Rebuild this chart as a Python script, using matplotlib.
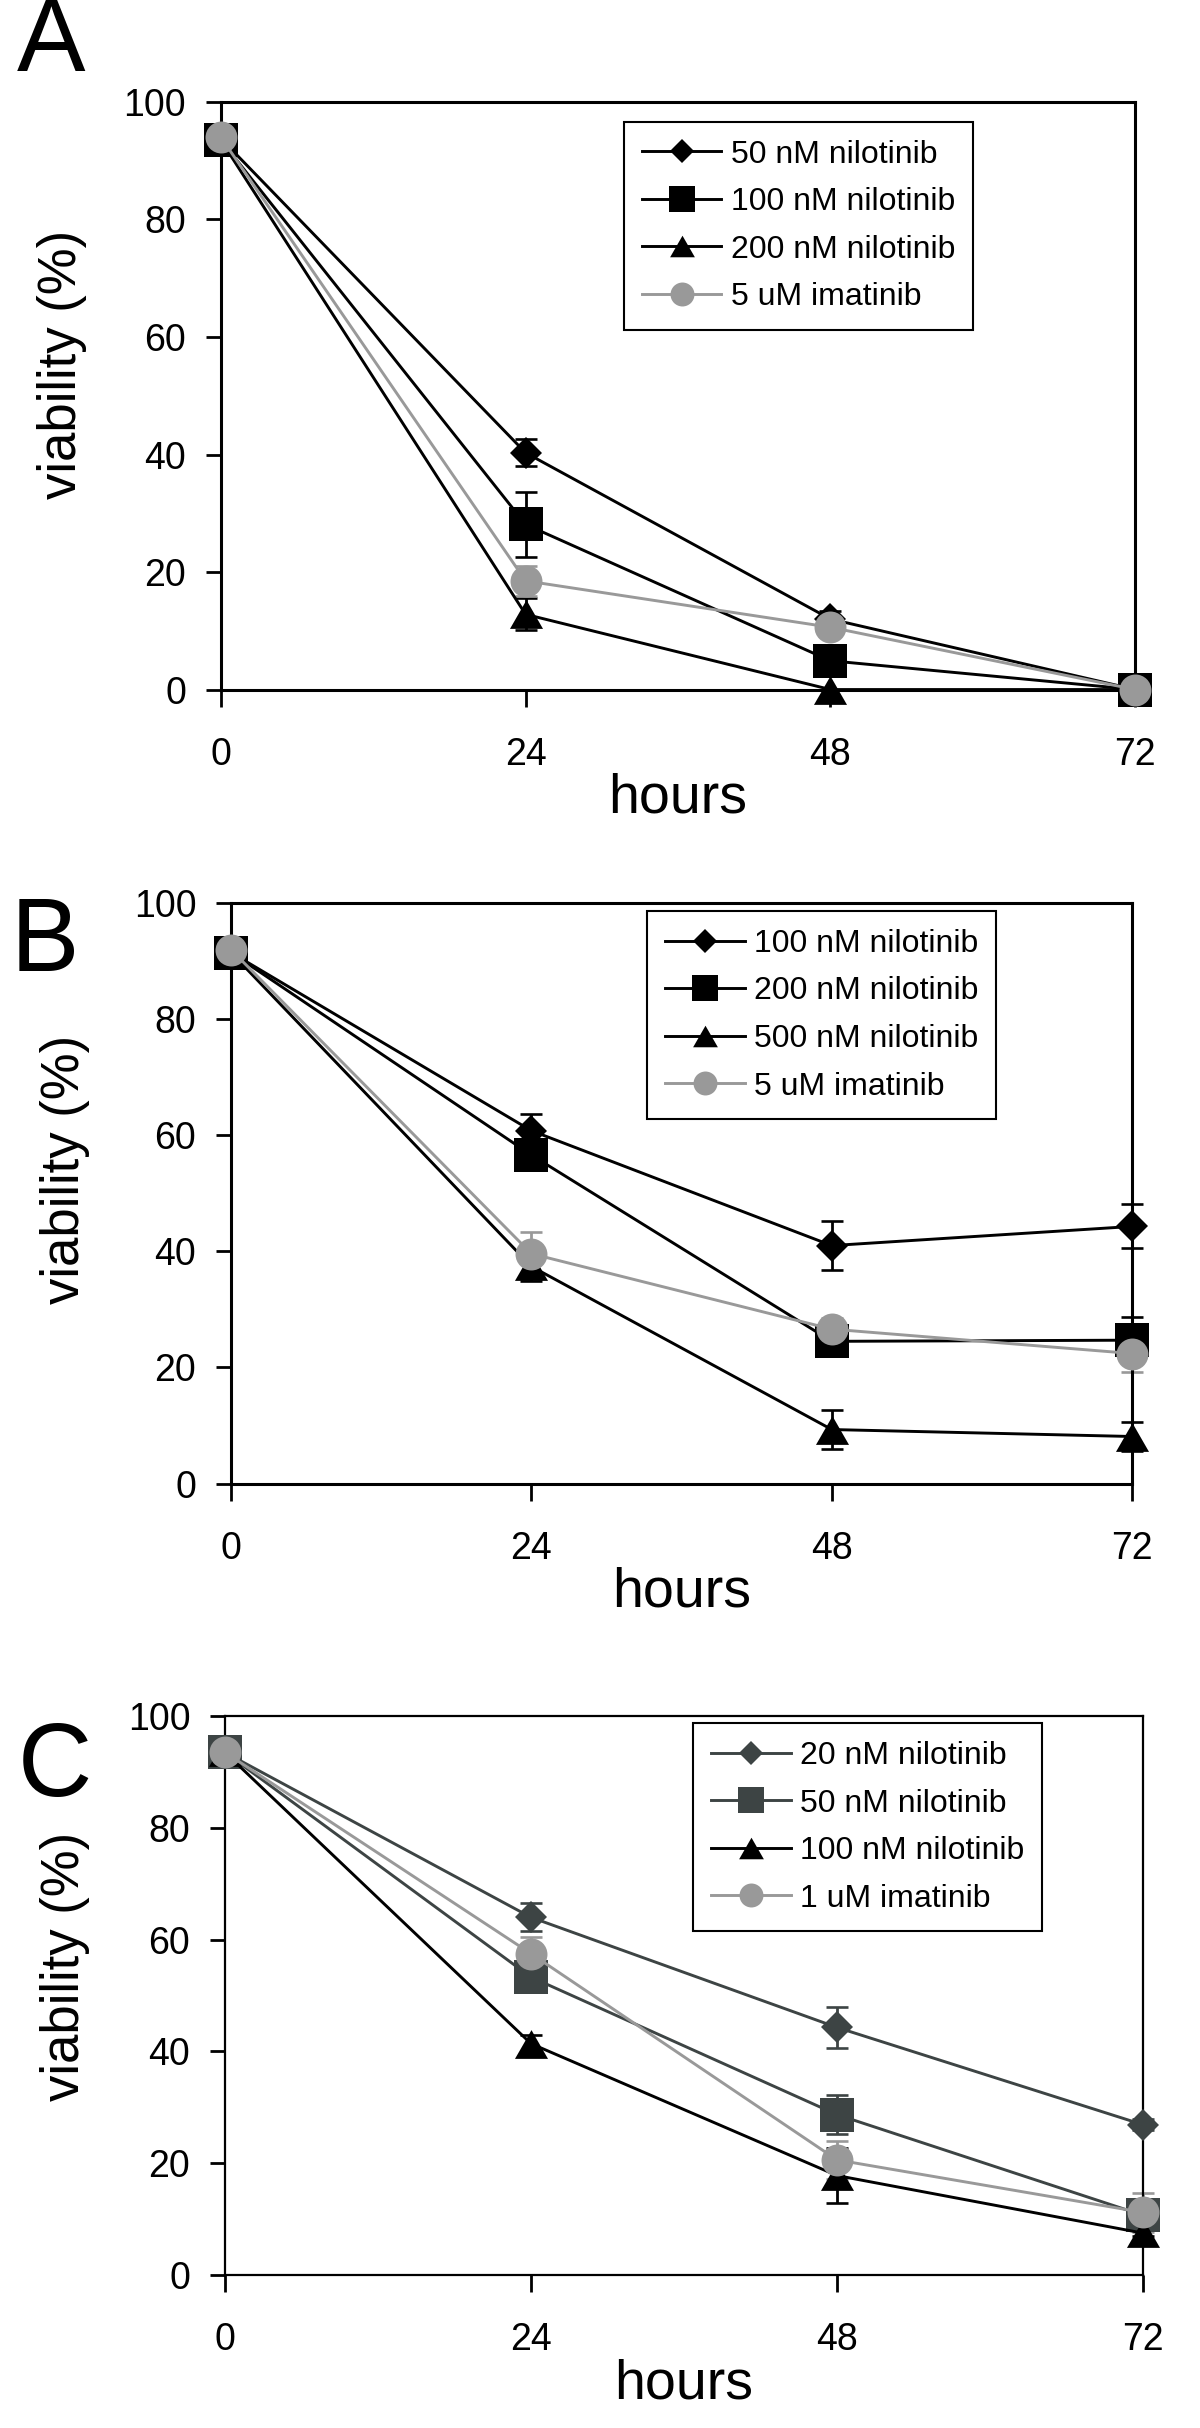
import matplotlib
matplotlib.use("Agg")
import matplotlib.pyplot as plt

plt.rcParams['font.family'] = ['Liberation Sans', 'DejaVu Sans']

hours = [0, 24, 48, 72]
y_ticks = [0, 20, 40, 60, 80, 100]

# panel A
a_labels = ["50 nM nilotinib", "100 nM nilotinib", "200 nM nilotinib", "5 uM imatinib"]
a_n50 = [93.8, 40.3, 12.0, 0.0]
a_n50_err = [0, 2.3, 1.3, 0]
a_n100 = [93.5, 28.1, 4.9, 0.0]
a_n100_err = [0, 5.6, 1.0, 0]
a_n200 = [93.5, 12.8, 0.0, 0.0]
a_n200_err = [0, 2.7, 0, 0]
a_ima = [94.0, 18.5, 10.6, 0.0]
a_ima_err = [0, 2.5, 1.0, 0]

# panel B
b_labels = ["100 nM nilotinib", "200 nM nilotinib", "500 nM nilotinib", "5 uM imatinib"]
b_n100 = [91.5, 60.8, 41.0, 44.3]
b_n100_err = [0, 2.9, 4.2, 3.8]
b_n200 = [91.5, 56.6, 24.5, 24.7]
b_n200_err = [0, 2.0, 2.5, 4.0]
b_n500 = [91.5, 37.4, 9.3, 8.1]
b_n500_err = [0, 2.5, 3.4, 2.5]
b_ima = [92.0, 39.6, 26.6, 22.4]
b_ima_err = [0, 3.7, 2.0, 3.1]

# panel C
c_labels = ["20 nM nilotinib", "50 nM nilotinib", "100 nM nilotinib", "1 uM imatinib"]
c_n20 = [93.5, 64.0, 44.3, 26.9]
c_n20_err = [0, 2.5, 3.7, 1.0]
c_n50 = [93.5, 53.3, 28.7, 10.7]
c_n50_err = [0, 1.5, 3.5, 1.5]
c_n100 = [93.5, 41.4, 17.8, 7.5]
c_n100_err = [0, 1.5, 5.0, 0.5]
c_ima = [93.5, 57.5, 20.6, 11.2]
c_ima_err = [0, 3.0, 3.4, 3.5]

gray = "#999999"
dark = "#3d4444"
tri = [(-1, -0.87), (1, -0.87), (0, 0.87), (-1, -0.87)]
markers = ["D", "s", tri, "o"]
msizes = [15.8, 24.5, 23.8, 23]

fig = plt.figure(figsize=(12, 24.28), dpi=100)


def panel(rect, series, errs, labels, colors, leg_pos, ylab_pos, letter, letter_pos, spine_w):
    ax = fig.add_axes(rect)
    for k in range(4):
        ax.errorbar(hours, series[k], yerr=errs[k], fmt="none", ecolor=colors[k],
                    elinewidth=2, capsize=7.6, capthick=1.9, clip_on=False, zorder=2)
    for k in range(4):
        ax.plot(hours, series[k], color=colors[k], marker=markers[k],
                markersize=msizes[k], lw=2.1, markeredgewidth=0, label=labels[k],
                clip_on=False, zorder=3 + k)
    ax.set_xlim(0, 72)
    ax.set_ylim(0, 100)
    ax.set_xticks(hours)
    ax.set_yticks(y_ticks)
    ax.tick_params(axis="x", direction="out", length=12, width=2, labelsize=27, pad=22)
    ax.tick_params(axis="y", direction="out", length=11, width=2, labelsize=27, pad=14)
    for s in ax.spines.values():
        s.set_linewidth(spine_w)
    ax.set_xlabel("hours", fontsize=40, labelpad=0)
    ax.set_ylabel("viability (%)", fontsize=38)
    ax.yaxis.set_label_coords(ylab_pos[0], ylab_pos[1])
    leg = ax.legend(loc="upper left", bbox_to_anchor=leg_pos, fontsize=23,
                    frameon=True, fancybox=False, edgecolor="black", framealpha=1,
                    handlelength=2.5, handletextpad=0.3, labelspacing=0.55,
                    borderpad=0.55, markerscale=0.75, borderaxespad=0)
    leg.get_frame().set_linewidth(1.5)
    fig.text(letter_pos[0], letter_pos[1], letter, fontsize=74, va="baseline", ha="left")
    return ax


panel([0.184, 0.716, 0.762, 0.242],
      [a_n50, a_n100, a_n200, a_ima], [a_n50_err, a_n100_err, a_n200_err, a_ima_err],
      a_labels, ["black", "black", "black", gray], (0.441, 0.966), (-0.146, 0.553),
      "A", (0.014, 0.9708), 2.2)

panel([0.1925, 0.389, 0.751, 0.239],
      [b_n100, b_n200, b_n500, b_ima], [b_n100_err, b_n200_err, b_n500_err, b_ima_err],
      b_labels, ["black", "black", "black", gray], (0.462, 0.986), (-0.156, 0.541),
      "B", (0.009, 0.6001), 2.2)

panel([0.1875, 0.063, 0.765, 0.2302],
      [c_n20, c_n50, c_n100, c_ima], [c_n20_err, c_n50_err, c_n100_err, c_ima_err],
      c_labels, [dark, dark, "black", gray], (0.510, 0.987), (-0.147, 0.553),
      "C", (0.015, 0.2603), 1.6)

fig.savefig("out.png", dpi=100)
